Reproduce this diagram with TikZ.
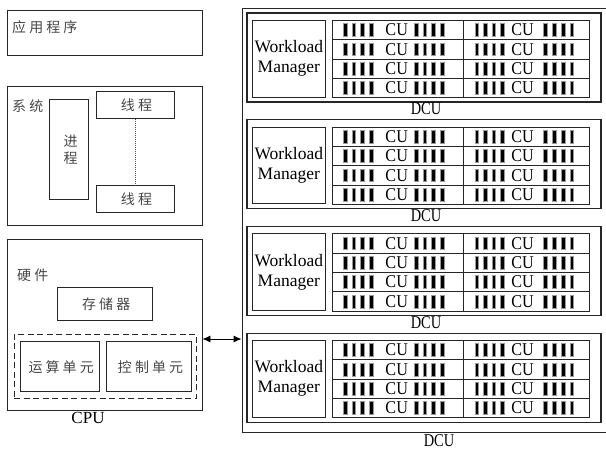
\documentclass[tikz,border=0pt]{standalone}
\usepackage{graphicx}
\usepackage{fontspec}
\setmainfont{Liberation Serif}
\newfontfamily\cjk[LetterSpace=22]{Noto Sans CJK SC}
\usetikzlibrary{arrows.meta}
\begin{document}
\begin{tikzpicture}[x=1pt,y=-1pt,
  box/.style={draw=black!85,line width=0.9pt,inner sep=0pt},
  zh/.style={font=\cjk\fontsize{14}{17}\selectfont,text=black!72,inner sep=0pt},
  lat/.style={font=\fontsize{17.5}{20}\selectfont,inner sep=0pt},
  culab/.style={font=\fontsize{18}{20}\selectfont,inner sep=0pt},
  cell/.style={draw=black!85,line width=0.8pt,inner sep=0pt,minimum height=19.35pt},
  bar/.style={fill=black,draw=black!40,line width=0.6pt},
  link/.style={line width=0.9pt,{Latex[length=8pt,width=7pt]}-{Latex[length=8pt,width=7pt]}}]
\useasboundingbox (0,0) rectangle (606,450);

% ---- software / system / hardware stack ----
\node[box,minimum width=195pt,minimum height=44.5pt] (app) at (104.5,32.75) {};
\node[zh,anchor=west] (applbl) at (12,27) {应用程序};

\node[box,minimum width=195pt,minimum height=139pt] (sys) at (104.5,155.5) {};
\node[zh,anchor=west] (syslbl) at (12,106) {系统};
\node[box,minimum width=39pt,minimum height=100pt] (proc) at (69.2,149.7) {};
\node[zh,align=center] (proclbl) at (70.5,150) {进\\程};
\node[box,minimum width=78pt,minimum height=27.4pt] (thr1) at (135,105) {};
\node[zh] (thr1lbl) at (136.5,105) {线程};
\node[box,minimum width=78pt,minimum height=27pt] (thr2) at (135,199.2) {};
\node[zh] (thr2lbl) at (136.5,199.2) {线程};
\draw[line width=1pt,black!70,dash pattern=on 1pt off 1pt] (thr1.south) -- (thr2.north);

\node[box,minimum width=195pt,minimum height=170.7pt] (hw) at (104.5,324.7) {};
\node[zh,anchor=west] (hwlbl) at (17,275) {硬件};
\node[box,minimum width=94.3pt,minimum height=32.3pt] (mem) at (104.8,303.8) {};
\node[zh] (memlbl) at (106.2,303.8) {存储器};
\node[draw=black!85,line width=0.9pt,dash pattern=on 6pt off 3.5pt,
      minimum width=182pt,minimum height=64pt,inner sep=0pt] (grp) at (105,366.3) {};
\node[box,minimum width=79.7pt,minimum height=50pt] (alu) at (59.8,366.7) {};
\node[zh] (alulbl) at (61.2,366.7) {运算单元};
\node[box,minimum width=85pt,minimum height=50pt] (ctl) at (149.2,366.7) {};
\node[zh] (ctllbl) at (150.6,366.7) {控制单元};
\node[lat,font=\fontsize{17}{18}\selectfont] (cpulbl) at (88,418) {CPU};

% ---- accelerator side ----
\node[box,minimum width=370pt,minimum height=424pt] (outer) at (427,220) {};
\node[culab] (outerlbl) at (439,441) {\scalebox{0.8}[1]{DCU}};

\foreach \k in {0,1,2,3}{
  \pgfmathsetmacro\T{13+106.7*\k}
  \node[box,line width=1.1pt,minimum width=354pt,minimum height=89pt] (dcu\k) at (424,\T+44.5) {};
  \node[box,minimum width=72.3pt,minimum height=76.5pt,align=center,lat] (wm\k) at (288.8,\T+45.7) {Workload\\Manager};
  \foreach \r in {0,1,2,3}{
    \pgfmathsetmacro\Y{\T+7.3+19.35*\r+9.675}
    \node[cell,minimum width=130.6pt] (cl\k\r) at (398,\Y) {};
    \node[cell,minimum width=126pt] (cr\k\r) at (526.3,\Y) {};
    \foreach \i in {0,1,2,3}{
      \draw[bar] (343.3+8.6*\i,\Y-6.4) rectangle ++(3.8,12.8);
      \draw[bar] (414.3+8.6*\i,\Y-6.4) rectangle ++(3.8,12.8);
      \draw[bar] (474.8+8.5*\i,\Y-6.4) rectangle ++(3.8,12.8);
      \draw[bar] (543.4+8.8*\i,\Y-6.4) rectangle ++(3.8,12.8);
    }
    \node[culab] (cul\k\r) at (396.7,\Y) {\scalebox{0.9}[1]{CU}};
    \node[culab] (cur\k\r) at (522.5,\Y) {\scalebox{0.9}[1]{CU}};
  }
}
% labels under the first three device boxes
\foreach \k in {0,1,2}{
  \pgfmathsetmacro\T{13+106.7*\k}
  \node[culab] (dcul\k) at (426,\T+96) {\scalebox{0.8}[1]{DCU}};
}

% ---- host / device link ----
\coordinate (arr) at (0,339);
\draw[link] (hw.east |- arr) -- (outer.west |- arr);
\end{tikzpicture}
\end{document}
